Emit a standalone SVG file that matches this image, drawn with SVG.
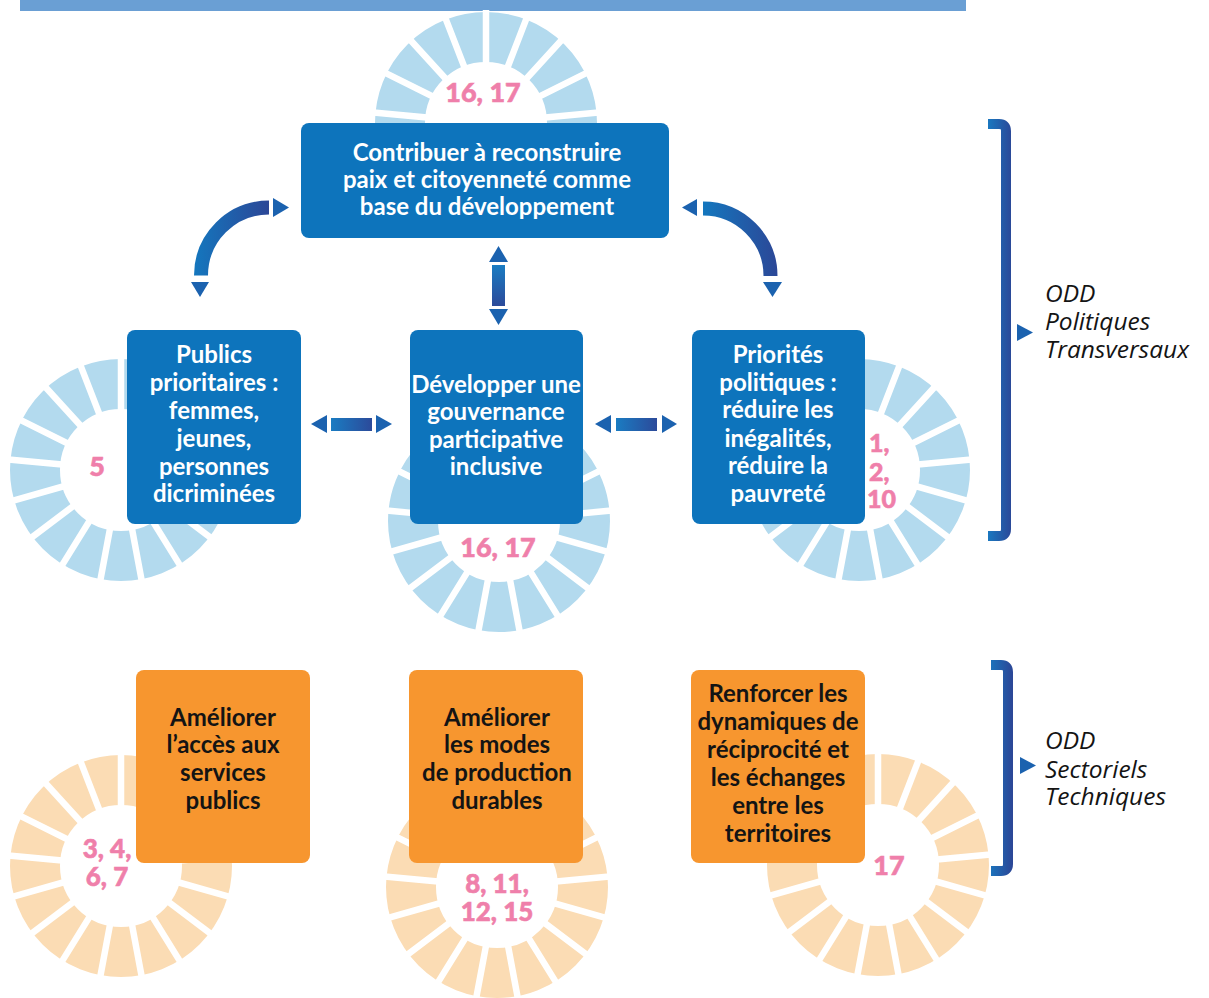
<svg xmlns="http://www.w3.org/2000/svg" xmlns:xlink="http://www.w3.org/1999/xlink" width="1209" height="998" viewBox="0 0 1209 998">
<style>
.bx{fill:#0d74bc}
.ob{fill:#f7962f}
.bt{font-family:Lato,"Open Sans","Liberation Sans",sans-serif;font-weight:700;font-size:24px;fill:#fff;text-anchor:middle}
.ot{font-family:Lato,"Open Sans","Liberation Sans",sans-serif;font-weight:700;font-size:24px;fill:#141414;text-anchor:middle}
.pk{font-family:Lato,"Open Sans","Liberation Sans",sans-serif;font-weight:900;font-size:27px;fill:#ef7faa;text-anchor:middle;stroke:#ef7faa;stroke-width:0.6}
.it{font-family:"Open Sans","Noto Sans","Liberation Sans",sans-serif;font-style:italic;font-size:24.5px;fill:#141414}
.tri{fill:#1b62af}
</style>
<defs>
<g id="wheel">
<circle r="86" fill="none" stroke="currentColor" stroke-width="50"/>
<path d="M0 0L0 -113M0 0L40.8 -105.4M0 0L76.1 -83.5M0 0L101.2 -50.4M0 0L112.5 -10.4M0 0L108.7 30.9M0 0L90.2 68.1M0 0L59.5 96.1M0 0L20.8 111.1M0 0L-20.8 111.1M0 0L-59.5 96.1M0 0L-90.2 68.1M0 0L-108.7 30.9M0 0L-112.5 -10.4M0 0L-101.2 -50.4M0 0L-76.1 -83.5M0 0L-40.8 -105.4" stroke="#fff" stroke-width="6.5"/>
</g>
<linearGradient id="gh" x1="0" y1="0" x2="1" y2="0">
<stop offset="0" stop-color="#1a7cc2"/><stop offset="1" stop-color="#2c4a9a"/>
</linearGradient>
<linearGradient id="gv" x1="0" y1="0" x2="0" y2="1">
<stop offset="0" stop-color="#1a7cc2"/><stop offset="1" stop-color="#2c4a9a"/>
</linearGradient>
<linearGradient id="ga1" gradientUnits="userSpaceOnUse" x1="194" y1="0" x2="270" y2="0">
<stop offset="0" stop-color="#1477be"/><stop offset="1" stop-color="#2c4696"/>
</linearGradient>
<linearGradient id="ga2" gradientUnits="userSpaceOnUse" x1="703" y1="0" x2="779" y2="0">
<stop offset="0" stop-color="#1477be"/><stop offset="1" stop-color="#2c4696"/>
</linearGradient>
<linearGradient id="gb" gradientUnits="userSpaceOnUse" x1="988" y1="0" x2="1012" y2="0">
<stop offset="0" stop-color="#1a78c0"/><stop offset="1" stop-color="#2b4797"/>
</linearGradient>
</defs>
<rect x="0" y="0" width="1209" height="998" fill="#fff"/>
<rect x="20" y="0" width="946" height="11" fill="#6a9fd4"/>

<g id="wheels">
<use xlink:href="#wheel" href="#wheel" x="486" y="123" color="#b3daee"/>
<use xlink:href="#wheel" href="#wheel" x="121" y="470" color="#b3daee"/>
<use xlink:href="#wheel" href="#wheel" x="499" y="521" color="#b3daee"/>
<use xlink:href="#wheel" href="#wheel" x="859" y="470" color="#b3daee"/>
<use xlink:href="#wheel" href="#wheel" x="121" y="866" color="#fbdcb4"/>
<use xlink:href="#wheel" href="#wheel" x="497" y="887" color="#fbdcb4"/>
<use xlink:href="#wheel" href="#wheel" x="878" y="865" color="#fbdcb4"/>
</g>

<g id="connectors">
<path d="M269 207.5A68 68 0 0 0 201 275.5" fill="none" stroke="url(#ga1)" stroke-width="14"/>
<polygon class="tri" points="273,198 289,207.5 273,217"/>
<polygon class="tri" points="191,282 209,282 200,297"/>
<path d="M703 208.5A67.5 67.5 0 0 1 770.5 276" fill="none" stroke="url(#ga2)" stroke-width="14"/>
<polygon class="tri" points="697,199 682,207.5 697,216"/>
<polygon class="tri" points="763,282 782,282 772.5,297"/>
<polygon class="tri" points="489,262 508,262 498.5,246"/>
<rect x="492" y="265" width="13" height="41" fill="url(#gv)"/>
<polygon class="tri" points="489,309 508,309 498.5,325"/>
<polygon class="tri" points="327,415 327,433 311,424"/>
<rect x="331" y="418" width="41" height="13" fill="url(#gh)"/>
<polygon class="tri" points="376,415 376,433 392,424"/>
<polygon class="tri" points="611,415 611,433 595,424"/>
<rect x="616" y="418" width="41" height="13" fill="url(#gh)"/>
<polygon class="tri" points="662,415 662,433 677,424"/>
</g>

<g id="n-top">
<rect class="bx" x="301" y="123" width="368" height="115" rx="8"/>
<text class="bt"><tspan x="487" y="161">Contribuer à reconstruire</tspan><tspan x="487" y="188">paix et citoyenneté comme</tspan><tspan x="487" y="215">base du développement</tspan></text>
<text class="pk" x="483" y="102">16, 17</text>
</g>
<g id="n-publics">
<rect class="bx" x="127" y="330" width="174" height="194" rx="8"/>
<text class="bt"><tspan x="214" y="363">Publics</tspan><tspan x="214" y="391">prioritaires :</tspan><tspan x="214" y="419">femmes,</tspan><tspan x="214" y="447">jeunes,</tspan><tspan x="214" y="475">personnes</tspan><tspan x="214" y="502">dicriminées</tspan></text>
<text class="pk" x="97" y="476">5</text>
</g>
<g id="n-gouvernance">
<rect class="bx" x="410" y="330" width="173" height="194" rx="8"/>
<text class="bt"><tspan x="496" y="393">Développer une</tspan><tspan x="496" y="420">gouvernance</tspan><tspan x="496" y="448">participative</tspan><tspan x="496" y="475">inclusive</tspan></text>
<text class="pk" x="498" y="557">16, 17</text>
</g>
<g id="n-priorites">
<rect class="bx" x="692" y="330" width="173" height="194" rx="8"/>
<text class="bt"><tspan x="778" y="363">Priorités</tspan><tspan x="778" y="391">politiques :</tspan><tspan x="778" y="418">réduire les</tspan><tspan x="778" y="447">inégalités,</tspan><tspan x="778" y="474">réduire la</tspan><tspan x="778" y="502">pauvreté</tspan></text>
<text class="pk" style="text-anchor:start;font-size:25px"><tspan x="869" y="452">1,</tspan><tspan x="869" y="481">2,</tspan><tspan x="867" y="508">10</tspan></text>
</g>
<g id="n-services">
<rect class="ob" x="136" y="670" width="174" height="193" rx="8"/>
<text class="ot"><tspan x="223" y="726">Améliorer</tspan><tspan x="223" y="753">l’accès aux</tspan><tspan x="223" y="781">services</tspan><tspan x="223" y="809">publics</tspan></text>
<text class="pk" style="font-size:26px"><tspan x="107" y="858">3, 4,</tspan><tspan x="107" y="886">6, 7</tspan></text>
</g>
<g id="n-production">
<rect class="ob" x="409" y="670" width="174" height="193" rx="8"/>
<text class="ot"><tspan x="497" y="726">Améliorer</tspan><tspan x="497" y="753">les modes</tspan><tspan x="497" y="781">de production</tspan><tspan x="497" y="809">durables</tspan></text>
<text class="pk" style="font-size:26px"><tspan x="497" y="893">8, 11,</tspan><tspan x="497" y="921">12, 15</tspan></text>
</g>
<g id="n-territoires">
<rect class="ob" x="691" y="670" width="174" height="193" rx="8"/>
<text class="ot"><tspan x="778" y="702">Renforcer les</tspan><tspan x="778" y="730">dynamiques de</tspan><tspan x="778" y="758">réciprocité et</tspan><tspan x="778" y="786">les échanges</tspan><tspan x="778" y="814">entre les</tspan><tspan x="778" y="842">territoires</tspan></text>
<text class="pk" x="889" y="875">17</text>
</g>

<g id="bracket-transversaux">
<path d="M988 124H999Q1006 124 1006 131V529Q1006 536 999 536H988" fill="none" stroke="url(#gb)" stroke-width="10"/>
<polygon class="tri" points="1017,324 1033,332.5 1017,341"/>
<text class="it"><tspan x="1045" y="302">ODD</tspan><tspan x="1045" y="330">Politiques</tspan><tspan x="1045" y="358">Transversaux</tspan></text>
</g>
<g id="bracket-sectoriels">
<path d="M991 665H1001Q1008 665 1008 672V864Q1008 871 1001 871H991" fill="none" stroke="url(#gb)" stroke-width="10"/>
<polygon class="tri" points="1020,757 1036,765.5 1020,774"/>
<text class="it"><tspan x="1045" y="749">ODD</tspan><tspan x="1045" y="778">Sectoriels</tspan><tspan x="1045" y="805">Techniques</tspan></text>
</g>
</svg>
